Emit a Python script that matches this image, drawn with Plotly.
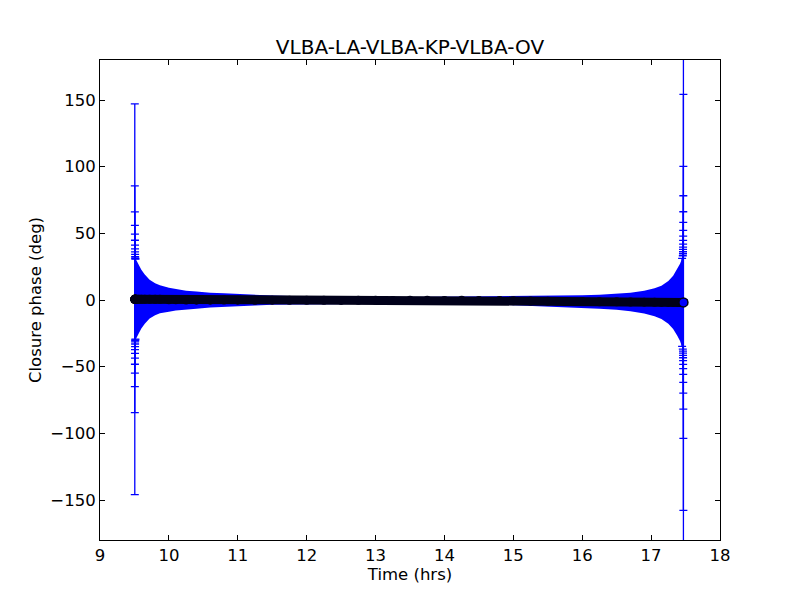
import plotly.graph_objects as go

# Time (hrs), closure phase (deg) and 1-sigma error (deg)
time_hrs = [
    9.505, 9.5055, 9.506, 9.5065, 9.507, 9.5075, 9.508, 9.5085, 9.509, 9.5095,
    9.510, 9.511, 9.512, 9.514, 9.53, 9.56, 9.60, 9.65, 9.72, 9.80, 9.87,
    10.0, 10.1, 10.25, 10.4, 10.6, 10.8, 11.0, 11.25, 11.5, 11.75, 12.0,
    12.25, 12.5, 12.75, 13.0, 13.25, 13.5, 13.75, 14.0, 14.25, 14.5, 14.8,
    15.0, 15.25, 15.5, 15.75, 16.0, 16.25, 16.5, 16.7, 16.9, 17.05, 17.15,
    17.25, 17.32, 17.38, 17.42, 17.45, 17.46, 17.4625, 17.463, 17.4635,
    17.464, 17.4645, 17.465, 17.4655, 17.466, 17.4665, 17.467, 17.4675,
    17.468, 17.4685, 17.469,
]
phase_deg = [
    0.6, 0.6, 0.6, 0.6, 0.6, 0.6, 0.6, 0.6, 0.6, 0.6,
    0.6, 0.6, 0.6, 0.6, 0.6, 0.6, 0.6, 0.6, 0.6, 0.6, 0.5,
    0.2, 0.1, 0.0, -0.1, -0.1, 0.0, -0.1, -0.2, -0.1, -0.2, -0.2,
    -0.2, -0.3, -0.2, -0.2, -0.3, -0.2, -0.2, -0.3, -0.2, -0.3, -0.4,
    -0.6, -0.8, -1.0, -1.1, -1.2, -1.3, -1.4, -1.5, -1.6, -1.7, -1.8,
    -1.8, -1.8, -1.8, -1.8, -1.8, -1.8, -1.8, -1.8, -1.8,
    -1.8, -1.8, -1.8, -1.8, -1.8, -1.8, -1.8, -1.8,
    -1.8, -1.8, -1.8,
]
phase_err = [
    146.5, 85.0, 65.5, 55.4, 48.8, 44.2, 40.6, 37.8, 35.5, 33.6,
    32.0, 31.0, 30.5, 30.0, 29.0, 26.0, 22.0, 18.5, 14.5, 12.0, 10.5,
    9.0, 8.0, 7.0, 6.5, 5.5, 5.0, 4.5, 4.0, 3.5, 3.2, 3.0,
    2.8, 2.6, 2.5, 2.4, 2.4, 2.4, 2.5, 2.6, 2.7, 2.9, 3.1,
    3.3, 3.6, 3.9, 4.3, 4.8, 5.3, 6.0, 7.0, 8.5, 10.5, 12.5,
    16.0, 20.0, 25.0, 29.0, 33.0, 35.0, 36.5, 38.0, 39.7,
    41.5, 43.7, 46.5, 49.7, 54.0, 60.0, 68.0, 80.0,
    102.0, 156.0, 250.0,
]

BLUE = "#0000ff"
DARK = "#00001a"

upper = [p + e for p, e in zip(phase_deg, phase_err)]
lower = [p - e for p, e in zip(phase_deg, phase_err)]

fig = go.Figure()

# dense error bars merge into a solid band
fig.add_trace(go.Scatter(
    x=time_hrs + time_hrs[::-1], y=upper + lower[::-1],
    mode="lines", fill="toself", fillcolor=BLUE,
    line=dict(width=0), hoverinfo="skip", showlegend=False,
))

# the capped bars that stand out of the band near the ends
big = [i for i, e in enumerate(phase_err) if e >= 30]
fig.add_trace(go.Scatter(
    x=[time_hrs[i] for i in big], y=[phase_deg[i] for i in big],
    mode="markers", marker=dict(size=1, color=BLUE, opacity=0),
    error_y=dict(type="data", array=[phase_err[i] for i in big], visible=True,
                 color=BLUE, thickness=1.3, width=4),
    hoverinfo="skip", showlegend=False,
))

n = len(time_hrs)
fig.add_trace(go.Scatter(
    x=time_hrs, y=phase_deg, mode="lines+markers",
    line=dict(color=DARK, width=9),
    marker=dict(size=9, color=[DARK] * (n - 1) + [BLUE],
                line=dict(color=DARK, width=[0] * (n - 1) + [1.5])),
    showlegend=False,
))

axis_common = dict(
    showline=True, linecolor="black", linewidth=1, mirror="allticks",
    ticks="inside", ticklen=5, tickwidth=1, tickcolor="black",
    showgrid=False, zeroline=False,
    tickfont=dict(size=16.5, color="black"),
)

fig.update_layout(
    width=800, height=600,
    margin=dict(l=92, r=88, t=52, b=68),
    paper_bgcolor="white", plot_bgcolor="white",
    font=dict(family="DejaVu Sans", color="black"),
    title=dict(text="VLBA-LA-VLBA-KP-VLBA-OV", x=0.5025, xanchor="center",
               y=1 - 39 / 600, yanchor="middle", yref="container",
               font=dict(size=20)),
    xaxis=dict(range=[9, 18], tickmode="linear", tick0=9, dtick=1,
               title=dict(text="Time (hrs)", font=dict(size=16.5), standoff=0),
               **axis_common),
    yaxis=dict(range=[-180, 180], tickmode="linear", tick0=-150, dtick=50,
               title=dict(text="Closure phase (deg)", font=dict(size=16.5), standoff=4),
               **axis_common),
)

fig.write_html("out.html")
